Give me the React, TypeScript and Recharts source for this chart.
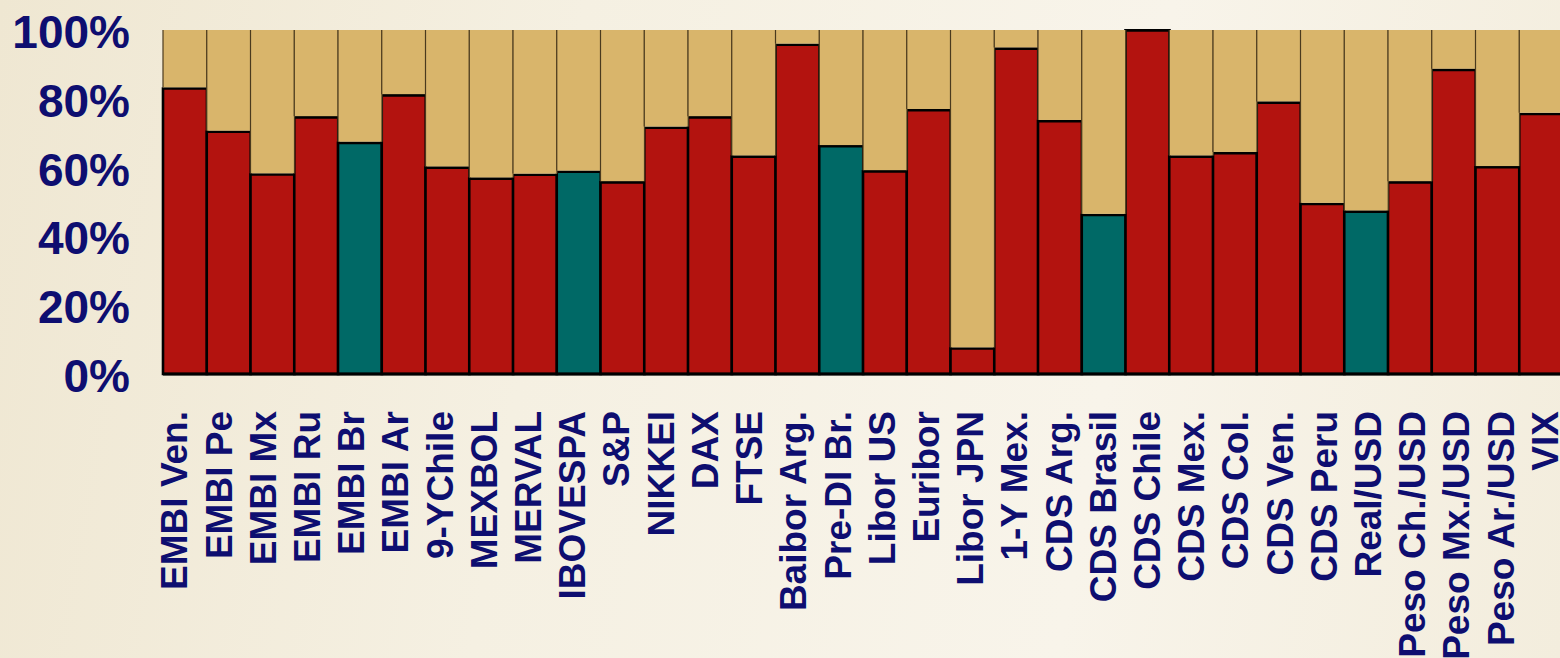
import React from 'react';
import { BarChart, Bar, XAxis, YAxis, Cell } from 'recharts';

const categories = [
  'EMBI Ven.', 'EMBI Pe', 'EMBI Mx', 'EMBI Ru', 'EMBI Br', 'EMBI Ar', '9-YChile', 'MEXBOL',
  'MERVAL', 'IBOVESPA', 'S&P', 'NIKKEI', 'DAX', 'FTSE', 'Baibor Arg.', 'Pre-DI Br.',
  'Libor US', 'Euribor', 'Libor JPN', '1-Y Mex.', 'CDS Arg.', 'CDS Brasil', 'CDS Chile', 'CDS Mex.',
  'CDS Col.', 'CDS Ven.', 'CDS Peru', 'Real/USD', 'Peso Ch./USD', 'Peso Mx./USD', 'Peso Ar./USD', 'VIX',
];

const shareValues = [
  83.0, 70.4, 58.0, 74.6, 67.2, 81.0, 60.0, 56.8,
  57.9, 58.8, 55.7, 71.6, 74.6, 63.2, 95.7, 66.2,
  58.9, 76.7, 7.4, 94.6, 73.5, 46.2, 99.9, 63.2,
  64.2, 78.9, 49.4, 47.2, 55.7, 88.4, 60.1, 75.6,
];

const brazilSeries = ['EMBI Br', 'IBOVESPA', 'Pre-DI Br.', 'CDS Brasil', 'Real/USD'];

const yTicks = [0, 20, 40, 60, 80, 100];

const data = categories.map((name, i) => ({
  name,
  share: shareValues[i],
  rest: 100 - shareValues[i],
}));

const NAVY = '#0E0E70';
const RED = '#B3130F';
const TEAL = '#006966';
const TAN = '#D9B56B';
const FONT = '"Liberation Sans", Arial, Helvetica, sans-serif';

const YTick = (props: any) => {
  const { x, y, payload } = props;
  return (
    <text x={x} y={y} dy={18} textAnchor="end" fill={NAVY} fontFamily={FONT} fontWeight="bold" fontSize={46}>
      {`${payload.value}%`}
    </text>
  );
};

const XTick = (props: any) => {
  const { x, y, payload, index } = props;
  const bx = x + 2.5 + index * 0.46;
  return (
    <text
      x={bx}
      y={y}
      transform={`rotate(-90 ${bx} ${y})`}
      textAnchor="end"
      fill={NAVY}
      fontFamily={FONT}
      fontWeight="bold"
      fontSize={37}
    >
      {payload.value}
    </text>
  );
};

const TanShape = (props: any) => {
  const { x, y, width, height } = props;
  if (!height || height <= 0) return null;
  const h = Math.max(0, height - 1.2);
  return (
    <g>
      <rect x={x} y={y} width={width} height={h} fill={TAN} />
      <line x1={x} y1={y} x2={x} y2={y + h} stroke="#4A3A1E" strokeWidth={1.2} />
      <line x1={x + width} y1={y} x2={x + width} y2={y + h} stroke="#4A3A1E" strokeWidth={1.2} />
    </g>
  );
};

export default function App() {
  return (
    <div
      style={{
        position: 'absolute',
        left: 0,
        top: 0,
        width: 1560,
        height: 658,
        overflow: 'hidden',
        background: 'linear-gradient(100deg, #EFE7D2 0%, #F5F0E2 35%, #F8F4EA 70%, #F3EDDD 100%)',
      }}
    >
      <BarChart
        width={1566}
        height={658}
        data={data}
        margin={{ top: 30, right: 3, bottom: 0, left: 0 }}
        barCategoryGap={0}
        barGap={0}
      >
        <YAxis
          type="number"
          domain={[0, 100]}
          ticks={yTicks}
          width={163}
          axisLine={false}
          tickLine={false}
          tickSize={0}
          tickMargin={33}
          tick={<YTick />}
          interval={0}
        />
        <XAxis
          dataKey="name"
          interval={0}
          height={284}
          tickLine={false}
          tickSize={0}
          tickMargin={37}
          axisLine={{ stroke: '#000', strokeWidth: 3 }}
          tick={<XTick />}
        />
        <Bar dataKey="share" stackId="a" stroke="#000" strokeWidth={2.6} isAnimationActive={false}>
          {data.map((d) => (
            <Cell key={d.name} fill={brazilSeries.includes(d.name) ? TEAL : RED} />
          ))}
        </Bar>
        <Bar dataKey="rest" stackId="a" shape={<TanShape />} isAnimationActive={false} />
      </BarChart>
    </div>
  );
}
